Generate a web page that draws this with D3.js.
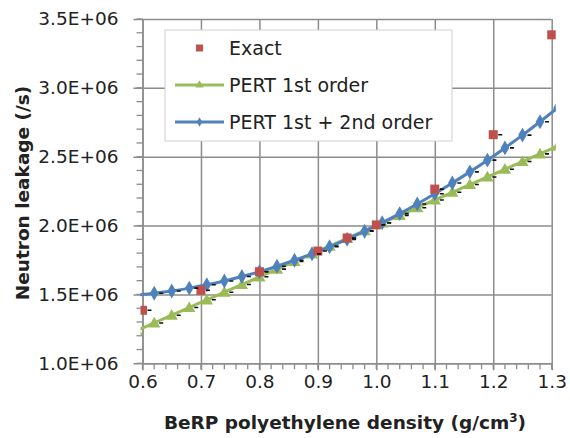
<!DOCTYPE html>
<html>
<head>
<meta charset="utf-8">
<script src="https://cdn.jsdelivr.net/npm/d3@7"></script>
<style>
  body { margin: 0; background: #fff; }
  text { font-family: "DejaVu Sans", sans-serif; fill: #222; }
  .tick-label { font-size: 18.5px; }
  .axis-label { font-size: 18.5px; font-weight: bold; }
  .legend-label { font-size: 19px; }
</style>
</head>
<body>
<div id="chart"></div>
<script>
// data
const densityExact = [0.6, 0.7, 0.8, 0.9, 0.95, 1.0, 1.1, 1.2, 1.3];
const leakageExact = [1.385e6, 1.53e6, 1.665e6, 1.815e6, 1.91e6, 2.005e6, 2.265e6, 2.66e6, 3.385e6];

const densityPert = [0.59, 0.62, 0.65, 0.68, 0.71, 0.74, 0.77, 0.80, 0.83, 0.86, 0.89, 0.92, 0.95,
                     0.98, 1.01, 1.04, 1.07, 1.10, 1.13, 1.16, 1.19, 1.22, 1.25, 1.28, 1.31];
const leakagePert1 = [1.237e6, 1.293e6, 1.349e6, 1.405e6, 1.461e6, 1.516e6, 1.572e6, 1.628e6, 1.684e6,
                      1.740e6, 1.795e6, 1.851e6, 1.907e6, 1.963e6, 2.019e6, 2.074e6, 2.130e6, 2.186e6,
                      2.242e6, 2.298e6, 2.353e6, 2.409e6, 2.465e6, 2.521e6, 2.577e6];
const leakagePert12 = [1.496e6, 1.509e6, 1.525e6, 1.546e6, 1.570e6, 1.598e6, 1.630e6, 1.665e6, 1.705e6,
                       1.748e6, 1.795e6, 1.846e6, 1.900e6, 1.959e6, 2.021e6, 2.087e6, 2.157e6, 2.231e6,
                       2.309e6, 2.390e6, 2.475e6, 2.564e6, 2.657e6, 2.754e6, 2.854e6];

const xTicks = [0.6, 0.7, 0.8, 0.9, 1.0, 1.1, 1.2, 1.3];
const yTicks = [1.0e6, 1.5e6, 2.0e6, 2.5e6, 3.0e6, 3.5e6];
const seriesNames = ["Exact", "PERT 1st order", "PERT 1st + 2nd order"];

const width = 570, height = 438;
const margin = { top: 19, right: 18.3, bottom: 74.7, left: 142.5 };
const innerWidth = width - margin.left - margin.right;
const innerHeight = height - margin.top - margin.bottom;

const gridColor = "#8c8c8c";
const red = "#c0504d", green = "#9bbb59", blue = "#4f81bd";

const svg = d3.select("#chart")
    .append("svg")
    .attr("width", width)
    .attr("height", height)
    .style("display", "block");

const innerChart = svg.append("g")
    .attr("transform", `translate(${margin.left},${margin.top})`);

const xScale = d3.scaleLinear().domain([0.6, 1.3]).range([0, innerWidth]);
const yScale = d3.scaleLinear().domain([1.0e6, 3.5e6]).range([innerHeight, 0]);

// minor ticks (outside the plot)
const xMinor = d3.range(0, 36).map(i => 0.6 + i * 0.02);
const yMinor = d3.range(0, 26).map(i => 1.0e6 + i * 0.1e6);

innerChart.append("g")
    .selectAll("line")
    .data(xMinor)
    .join("line")
        .attr("x1", d => xScale(d)).attr("x2", d => xScale(d))
        .attr("y1", innerHeight).attr("y2", innerHeight + 6)
        .attr("stroke", gridColor).attr("stroke-width", 1.3);

innerChart.append("g")
    .selectAll("line")
    .data(yMinor)
    .join("line")
        .attr("x1", -6).attr("x2", 0)
        .attr("y1", d => yScale(d)).attr("y2", d => yScale(d))
        .attr("stroke", gridColor).attr("stroke-width", 1.3);

// x axis with vertical gridlines
const bottomAxis = d3.axisBottom(xScale)
    .tickValues(xTicks)
    .tickSize(-innerHeight)
    .tickSizeOuter(0)
    .tickPadding(12)
    .tickFormat(d3.format(".1f"));

const xAxisG = innerChart.append("g")
    .attr("transform", `translate(0, ${innerHeight})`)
    .call(bottomAxis);
xAxisG.attr("font-size", null).attr("font-family", null);
xAxisG.select(".domain").attr("stroke", gridColor).attr("stroke-width", 1.5);
xAxisG.selectAll(".tick line")
    .attr("stroke", gridColor).attr("stroke-width", 1.5)
    .attr("y1", 7);
xAxisG.selectAll(".tick text")
    .attr("class", "tick-label")
    .attr("fill", "#222");

// y axis with horizontal gridlines
const leftAxis = d3.axisLeft(yScale)
    .tickValues(yTicks)
    .tickSize(-innerWidth)
    .tickSizeOuter(0)
    .tickPadding(24)
    .tickFormat(d => (d / 1e6).toFixed(1) + "E+06");

const yAxisG = innerChart.append("g").call(leftAxis);
yAxisG.attr("font-size", null).attr("font-family", null);
yAxisG.select(".domain").attr("stroke", gridColor).attr("stroke-width", 1.5);
yAxisG.selectAll(".tick line")
    .attr("stroke", gridColor).attr("stroke-width", 1.5)
    .attr("x1", -9);
yAxisG.selectAll(".tick text")
    .attr("class", "tick-label")
    .attr("fill", "#222");

// clip series to the plot area
svg.append("clipPath").attr("id", "plot-clip")
    .append("rect")
    .attr("x", -2).attr("y", -6)
    .attr("width", innerWidth + 6).attr("height", innerHeight + 8);

const plot = innerChart.append("g").attr("clip-path", "url(#plot-clip)");

const line = d3.line()
    .x(d => xScale(d[0]))
    .y(d => yScale(d[1]))
    .curve(d3.curveMonotoneX);

const pert1 = densityPert.map((d, i) => [d, leakagePert1[i]]);
const pert12 = densityPert.map((d, i) => [d, leakagePert12[i]]);
const exact = densityExact.map((d, i) => [d, leakageExact[i]]);

const triangle = d3.symbol(d3.symbolTriangle, 66);
const diamond = d3.symbol(d3.symbolDiamond, 64);

// draw PERT 1st order
plot.append("path")
    .datum(pert1)
    .attr("d", line)
    .attr("fill", "none")
    .attr("stroke", green)
    .attr("stroke-width", 3);
plot.selectAll(".tri")
    .data(pert1)
    .join("path")
        .attr("class", "tri")
        .attr("transform", d => `translate(${xScale(d[0])},${yScale(d[1]) + 1})`)
        .attr("d", triangle)
        .attr("fill", green);

// draw PERT 1st + 2nd order
plot.append("path")
    .datum(pert12)
    .attr("d", line)
    .attr("fill", "none")
    .attr("stroke", blue)
    .attr("stroke-width", 3);
plot.selectAll(".dia")
    .data(pert12)
    .join("path")
        .attr("class", "dia")
        .attr("transform", d => `translate(${xScale(d[0])},${yScale(d[1])})`)
        .attr("d", diamond)
        .attr("fill", blue);

// exact points
plot.selectAll(".sq")
    .data(exact)
    .join("rect")
        .attr("class", "sq")
        .attr("x", d => xScale(d[0]) - 4.5)
        .attr("y", d => yScale(d[1]) - 4.5)
        .attr("width", 9).attr("height", 9)
        .attr("fill", red);

// small black error marks beside the markers
const dashes = exact.concat(pert1.slice(1, -1), pert12.slice(1, -1));
plot.selectAll(".dash")
    .data(dashes)
    .join("line")
        .attr("class", "dash")
        .attr("x1", d => xScale(d[0]) + 5)
        .attr("x2", d => xScale(d[0]) + 9)
        .attr("y1", d => yScale(d[1]))
        .attr("y2", d => yScale(d[1]))
        .attr("stroke", "#111")
        .attr("stroke-width", 1.6);

// legend
const legend = svg.append("g");
legend.append("rect")
    .attr("x", 165).attr("y", 30)
    .attr("width", 287).attr("height", 111)
    .attr("fill", "#fff")
    .attr("stroke", "#d0d0d0")
    .attr("stroke-width", 1);

const legendRows = legend.selectAll(".row")
    .data(seriesNames)
    .join("g")
        .attr("class", "row")
        .attr("transform", (d, i) => `translate(0, ${48 + i * 37})`);

legendRows.append("text")
    .attr("class", "legend-label")
    .attr("x", 229)
    .attr("y", 0)
    .attr("dy", "0.35em")
    .text(d => d);

legendRows.filter((d, i) => i === 0)
    .append("rect")
    .attr("x", 196).attr("y", -3.5)
    .attr("width", 7).attr("height", 7)
    .attr("fill", red);

legendRows.filter((d, i) => i > 0)
    .append("line")
    .attr("x1", 175).attr("x2", 224)
    .attr("y1", 0).attr("y2", 0)
    .attr("stroke", (d, i) => i === 0 ? green : blue)
    .attr("stroke-width", 3);

legendRows.filter((d, i) => i === 1)
    .append("path")
    .attr("transform", "translate(199.5, 0)")
    .attr("d", d3.symbol(d3.symbolTriangle, 30))
    .attr("fill", green);

legendRows.filter((d, i) => i === 2)
    .append("path")
    .attr("transform", "translate(199.5, 0)")
    .attr("d", d3.symbol(d3.symbolDiamond, 26))
    .attr("fill", blue);

// axis titles
const xTitle = svg.append("text")
    .attr("class", "axis-label")
    .attr("text-anchor", "middle")
    .attr("x", 345)
    .attr("y", 429);
xTitle.append("tspan").text("BeRP polyethylene density (g/cm");
xTitle.append("tspan").attr("font-size", "12px").attr("dy", -7).text("3");
xTitle.append("tspan").attr("dy", 7).text(")");

svg.append("text")
    .attr("class", "axis-label")
    .attr("text-anchor", "middle")
    .attr("transform", "translate(29, 193) rotate(-90)")
    .text("Neutron leakage (/s)");
</script>
</body>
</html>
